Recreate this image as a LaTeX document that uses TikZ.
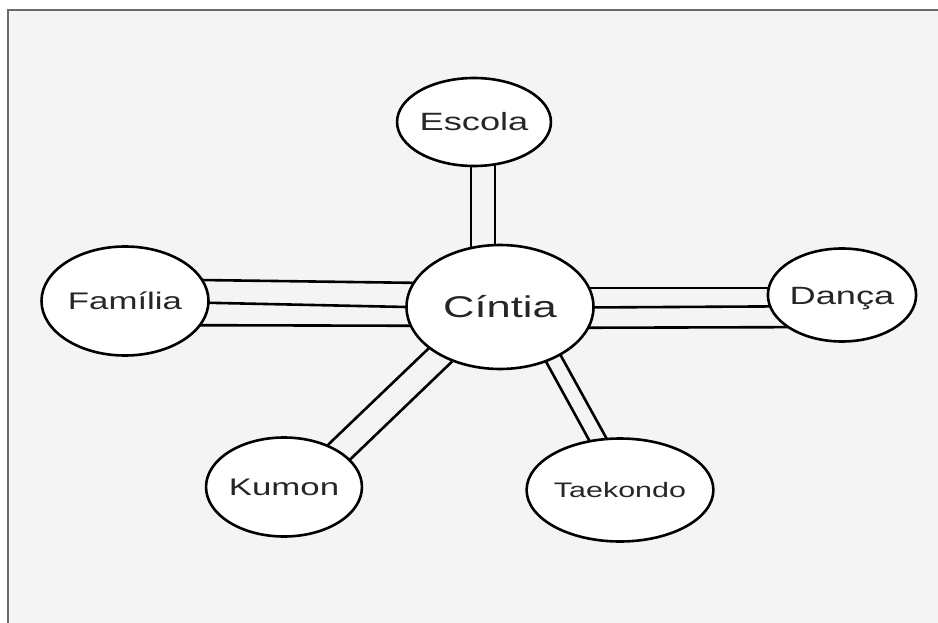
\documentclass[tikz,border=0pt]{standalone}
\usepackage{fontspec}
\setmainfont{Liberation Sans}
\usepackage{tikz}
\usetikzlibrary{shapes}
\usetikzlibrary{calc}
\pgfdeclarelayer{background}
\pgfsetlayers{background,main}
\definecolor{canvas}{HTML}{F4F4F4}
\definecolor{frameline}{HTML}{6B6B6B}
\tikzstyle{topic}=[ellipse,draw=black,fill=white,line width=2.6pt,inner sep=0pt,text=black!85]
\tikzstyle{link} = [draw,line width=2.6pt]

\begin{document}
\begin{tikzpicture}[x=1pt,y=-1pt]

  \useasboundingbox (0,0) rectangle (938,623);

  \begin{pgfonlayer}{background}
    \fill[white] (0,0) rectangle (938,623);
    \fill[canvas] (8,10) rectangle (938,623);
    \draw[frameline, line width=2pt] (8,623) -- (8,10) -- (938,10);
  \end{pgfonlayer}

   \foreach \x/\y/\name/\w/\h/\size/\label in {500/307/cintia/187/124/30/Cíntia, 474/122/escola/135/88/25/Escola, 125/301/familia/167/109/24/Família, 842/295/danca/146/93/25/Dança, 284/487/kumon/149/99/24/Kumon, 620/490/taekondo/162/103/21/Taekondo}
   {
          \pgfmathsetmacro{\capht}{0.72*\size}
          \node[topic, minimum width=\w pt, minimum height=\h pt, font=\fontsize{\size}{\size}\selectfont, text height=\capht pt, text depth=0pt] (\name) at (\x, \y) {\scalebox{1.45}[1]{\label}};
   }

  % parallel strokes, ends hidden under the white ellipses
  \begin{pgfonlayer}{background}
  \foreach \source/\sx/\sy/\dest/\tx/\ty in {escola/-3/0/cintia/-29/0, escola/21/0/cintia/-5/0, familia/0/-22/cintia/0/-23, familia/0/0/cintia/0/2, familia/0/24/cintia/0/19, cintia/0/-19/danca/0/-7, cintia/0/1/danca/0/11, cintia/0/21/danca/0/32, cintia/0/-27/kumon/0/0, cintia/0/8.5/kumon/0/36, cintia/16/0/taekondo/-3.5/0, cintia/34/0/taekondo/15/0}
         \path[link] ($(\source.center)+(\sx,\sy)$) -- ($(\dest.center)+(\tx,\ty)$);
  \end{pgfonlayer}

\end{tikzpicture}
\end{document}
